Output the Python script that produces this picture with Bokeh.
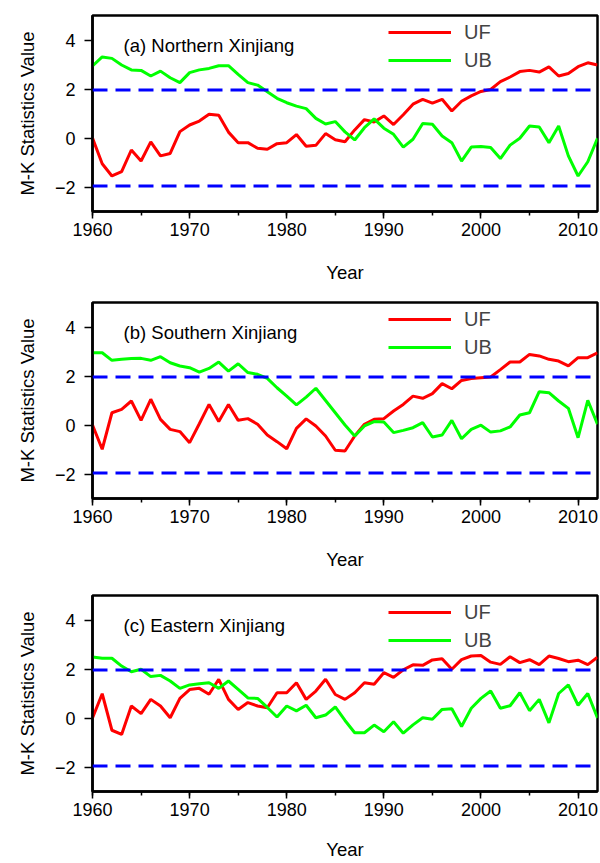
from bokeh.plotting import figure
from bokeh.layouts import column
from bokeh.models import Span, Label, Legend, LegendItem, SingleIntervalTicker, FixedTicker, Range1d
from bokeh.embed import file_html
from bokeh.resources import INLINE

years = list(range(1960, 2013))

uf_north = [0, -1.05, -1.55, -1.37, -0.49, -0.94, -0.16, -0.73, -0.63, 0.26,
            0.53, 0.69, 0.97, 0.93, 0.24, -0.19, -0.19, -0.42, -0.46, -0.23,
            -0.19, 0.14, -0.34, -0.30, 0.18, -0.07, -0.15, 0.33, 0.75, 0.65,
            0.90, 0.55, 0.95, 1.38, 1.58, 1.42, 1.58, 1.10, 1.50, 1.72,
            1.90, 1.98, 2.30, 2.49, 2.71, 2.76, 2.69, 2.90, 2.53, 2.63,
            2.91, 3.07, 2.98]
ub_north = [2.94, 3.31, 3.25, 2.98, 2.78, 2.76, 2.53, 2.73, 2.46, 2.26,
            2.67, 2.78, 2.84, 2.95, 2.95, 2.60, 2.26, 2.16, 1.89, 1.62,
            1.44, 1.30, 1.20, 0.80, 0.57, 0.67, 0.25, -0.08, 0.42, 0.78,
            0.40, 0.15, -0.37, -0.05, 0.59, 0.56, 0.08, -0.19, -0.94, -0.37,
            -0.35, -0.39, -0.84, -0.29, -0.01, 0.49, 0.45, -0.19, 0.49, -0.73,
            -1.55, -0.97, -0.01]

uf_south = [0, -0.99, 0.50, 0.64, 0.98, 0.19, 1.05, 0.23, -0.18, -0.27,
            -0.72, 0.05, 0.84, 0.14, 0.84, 0.19, 0.26, 0.03, -0.41, -0.68,
            -0.97, -0.14, 0.25, -0.04, -0.45, -1.03, -1.06, -0.45, 0.03, 0.23,
            0.26, 0.57, 0.84, 1.18, 1.09, 1.28, 1.69, 1.48, 1.82, 1.90,
            1.93, 1.96, 2.26, 2.57, 2.57, 2.88, 2.82, 2.68, 2.61, 2.41,
            2.75, 2.75, 2.95]
ub_south = [2.95, 2.95, 2.64, 2.68, 2.71, 2.72, 2.64, 2.79, 2.54, 2.41,
            2.34, 2.16, 2.31, 2.57, 2.20, 2.50, 2.14, 2.07, 1.90, 1.52,
            1.18, 0.82, 1.14, 1.50, 1.00, 0.50, 0.00, -0.45, -0.04, 0.14,
            0.12, -0.31, -0.22, -0.11, 0.10, -0.49, -0.41, 0.19, -0.56, -0.18,
            -0.01, -0.29, -0.24, -0.08, 0.41, 0.50, 1.36, 1.32, 0.98, 0.68,
            -0.52, 1.01, 0.03]

uf_east = [0, 0.99, -0.50, -0.67, 0.49, 0.18, 0.76, 0.49, 0.01, 0.80,
           1.16, 1.21, 0.97, 1.58, 0.76, 0.35, 0.63, 0.49, 0.42, 1.03,
           1.03, 1.44, 0.76, 1.10, 1.58, 0.96, 0.76, 1.03, 1.44, 1.38,
           1.85, 1.66, 1.97, 2.17, 2.15, 2.37, 2.42, 1.99, 2.38, 2.53,
           2.55, 2.28, 2.19, 2.50, 2.26, 2.38, 2.18, 2.53, 2.43, 2.30,
           2.36, 2.18, 2.48]
ub_east = [2.49, 2.44, 2.44, 2.12, 1.89, 1.99, 1.69, 1.74, 1.51, 1.21,
           1.35, 1.40, 1.44, 1.21, 1.51, 1.17, 0.82, 0.80, 0.43, 0.04,
           0.49, 0.29, 0.52, 0.01, 0.12, 0.45, -0.10, -0.60, -0.60, -0.29,
           -0.56, -0.15, -0.62, -0.28, 0.01, -0.05, 0.35, 0.38, -0.35, 0.40,
           0.80, 1.10, 0.40, 0.50, 1.03, 0.30, 0.76, -0.20, 1.00, 1.35,
           0.52, 1.00, 0.00]

panel_titles = ["(a) Northern Xinjiang", "(b) Southern Xinjiang", "(c) Eastern Xinjiang"]
uf_series = [uf_north, uf_south, uf_east]
ub_series = [ub_north, ub_south, ub_east]
conf_levels = [1.96, -1.96]
y_ticks = [-2, 0, 2, 4]
series_labels = ["UF", "UB"]

FONT = "Liberation Sans"
FRAME_H = 196
fig_heights = [297, 293, 273]
border_tops = [15, 5, 5]
year_standoffs = [23, 23, 20]

figs = []
for i in range(3):
    h = fig_heights[i]
    bt = border_tops[i]
    bb = h - bt - FRAME_H
    p = figure(width=600, height=h, output_backend="svg", toolbar_location=None,
               x_range=Range1d(1960, 2012), y_range=Range1d(-3, 5),
               min_border_left=92, min_border_right=3, min_border_top=bt, min_border_bottom=bb)
    p.xgrid.visible = False
    p.ygrid.visible = False
    p.outline_line_color = "black"
    p.outline_line_width = 2.5
    p.background_fill_color = "white"
    p.border_fill_color = "white"

    for lev in conf_levels:
        p.add_layout(Span(location=lev, dimension="width", line_color="#0000FF",
                          line_width=3, line_dash="15 8"))

    r_uf = p.line(years, uf_series[i], line_color="#FF0000", line_width=3)
    r_ub = p.line(years, ub_series[i], line_color="#00FF00", line_width=3)

    legend = Legend(items=[LegendItem(label=series_labels[0], renderers=[r_uf]),
                           LegendItem(label=series_labels[1], renderers=[r_ub])],
                    location=(296, 139), orientation="vertical",
                    border_line_color=None, background_fill_alpha=0,
                    padding=0, margin=0, spacing=4, glyph_width=63,
                    glyph_height=24, label_height=24, label_standoff=13,
                    label_text_font=FONT, label_text_font_size="20px")
    p.add_layout(legend)

    p.add_layout(Label(x=1963.2, y=3.78, text=panel_titles[i], text_baseline="middle",
                       text_font=FONT, text_font_size="18.5px", text_color="black"))

    xa = p.xaxis[0]
    xa.ticker = SingleIntervalTicker(interval=10, num_minor_ticks=2)
    xa.axis_label = "Year"
    ya = p.yaxis[0]
    ya.ticker = FixedTicker(ticks=y_ticks)
    ya.axis_label = "M-K Statistics Value"
    for ax in (xa, ya):
        ax.axis_line_color = "black"
        ax.axis_line_width = 2.5
        ax.major_tick_line_color = "black"
        ax.major_tick_line_width = 1.5
        ax.major_tick_in = 0
        ax.major_tick_out = 7
        ax.minor_tick_in = 0
        ax.minor_tick_out = 4
        ax.minor_tick_line_color = "black"
        ax.minor_tick_line_width = 1.5
        ax.major_label_text_font = FONT
        ax.major_label_text_font_size = "18px"
        ax.major_label_text_color = "black"
        ax.axis_label_text_font = FONT
        ax.axis_label_text_font_size = "18.5px"
        ax.axis_label_text_font_style = "normal"
        ax.axis_label_text_color = "black"
    ya.minor_tick_line_color = None
    ya.major_tick_out = 8
    ya.major_label_standoff = 9
    ya.axis_label_standoff = 14
    xa.major_label_standoff = 4
    xa.axis_label_standoff = year_standoffs[i]
    figs.append(p)

layout = column(*figs, spacing=0)
open("out.html", "w").write(file_html(layout, INLINE))
